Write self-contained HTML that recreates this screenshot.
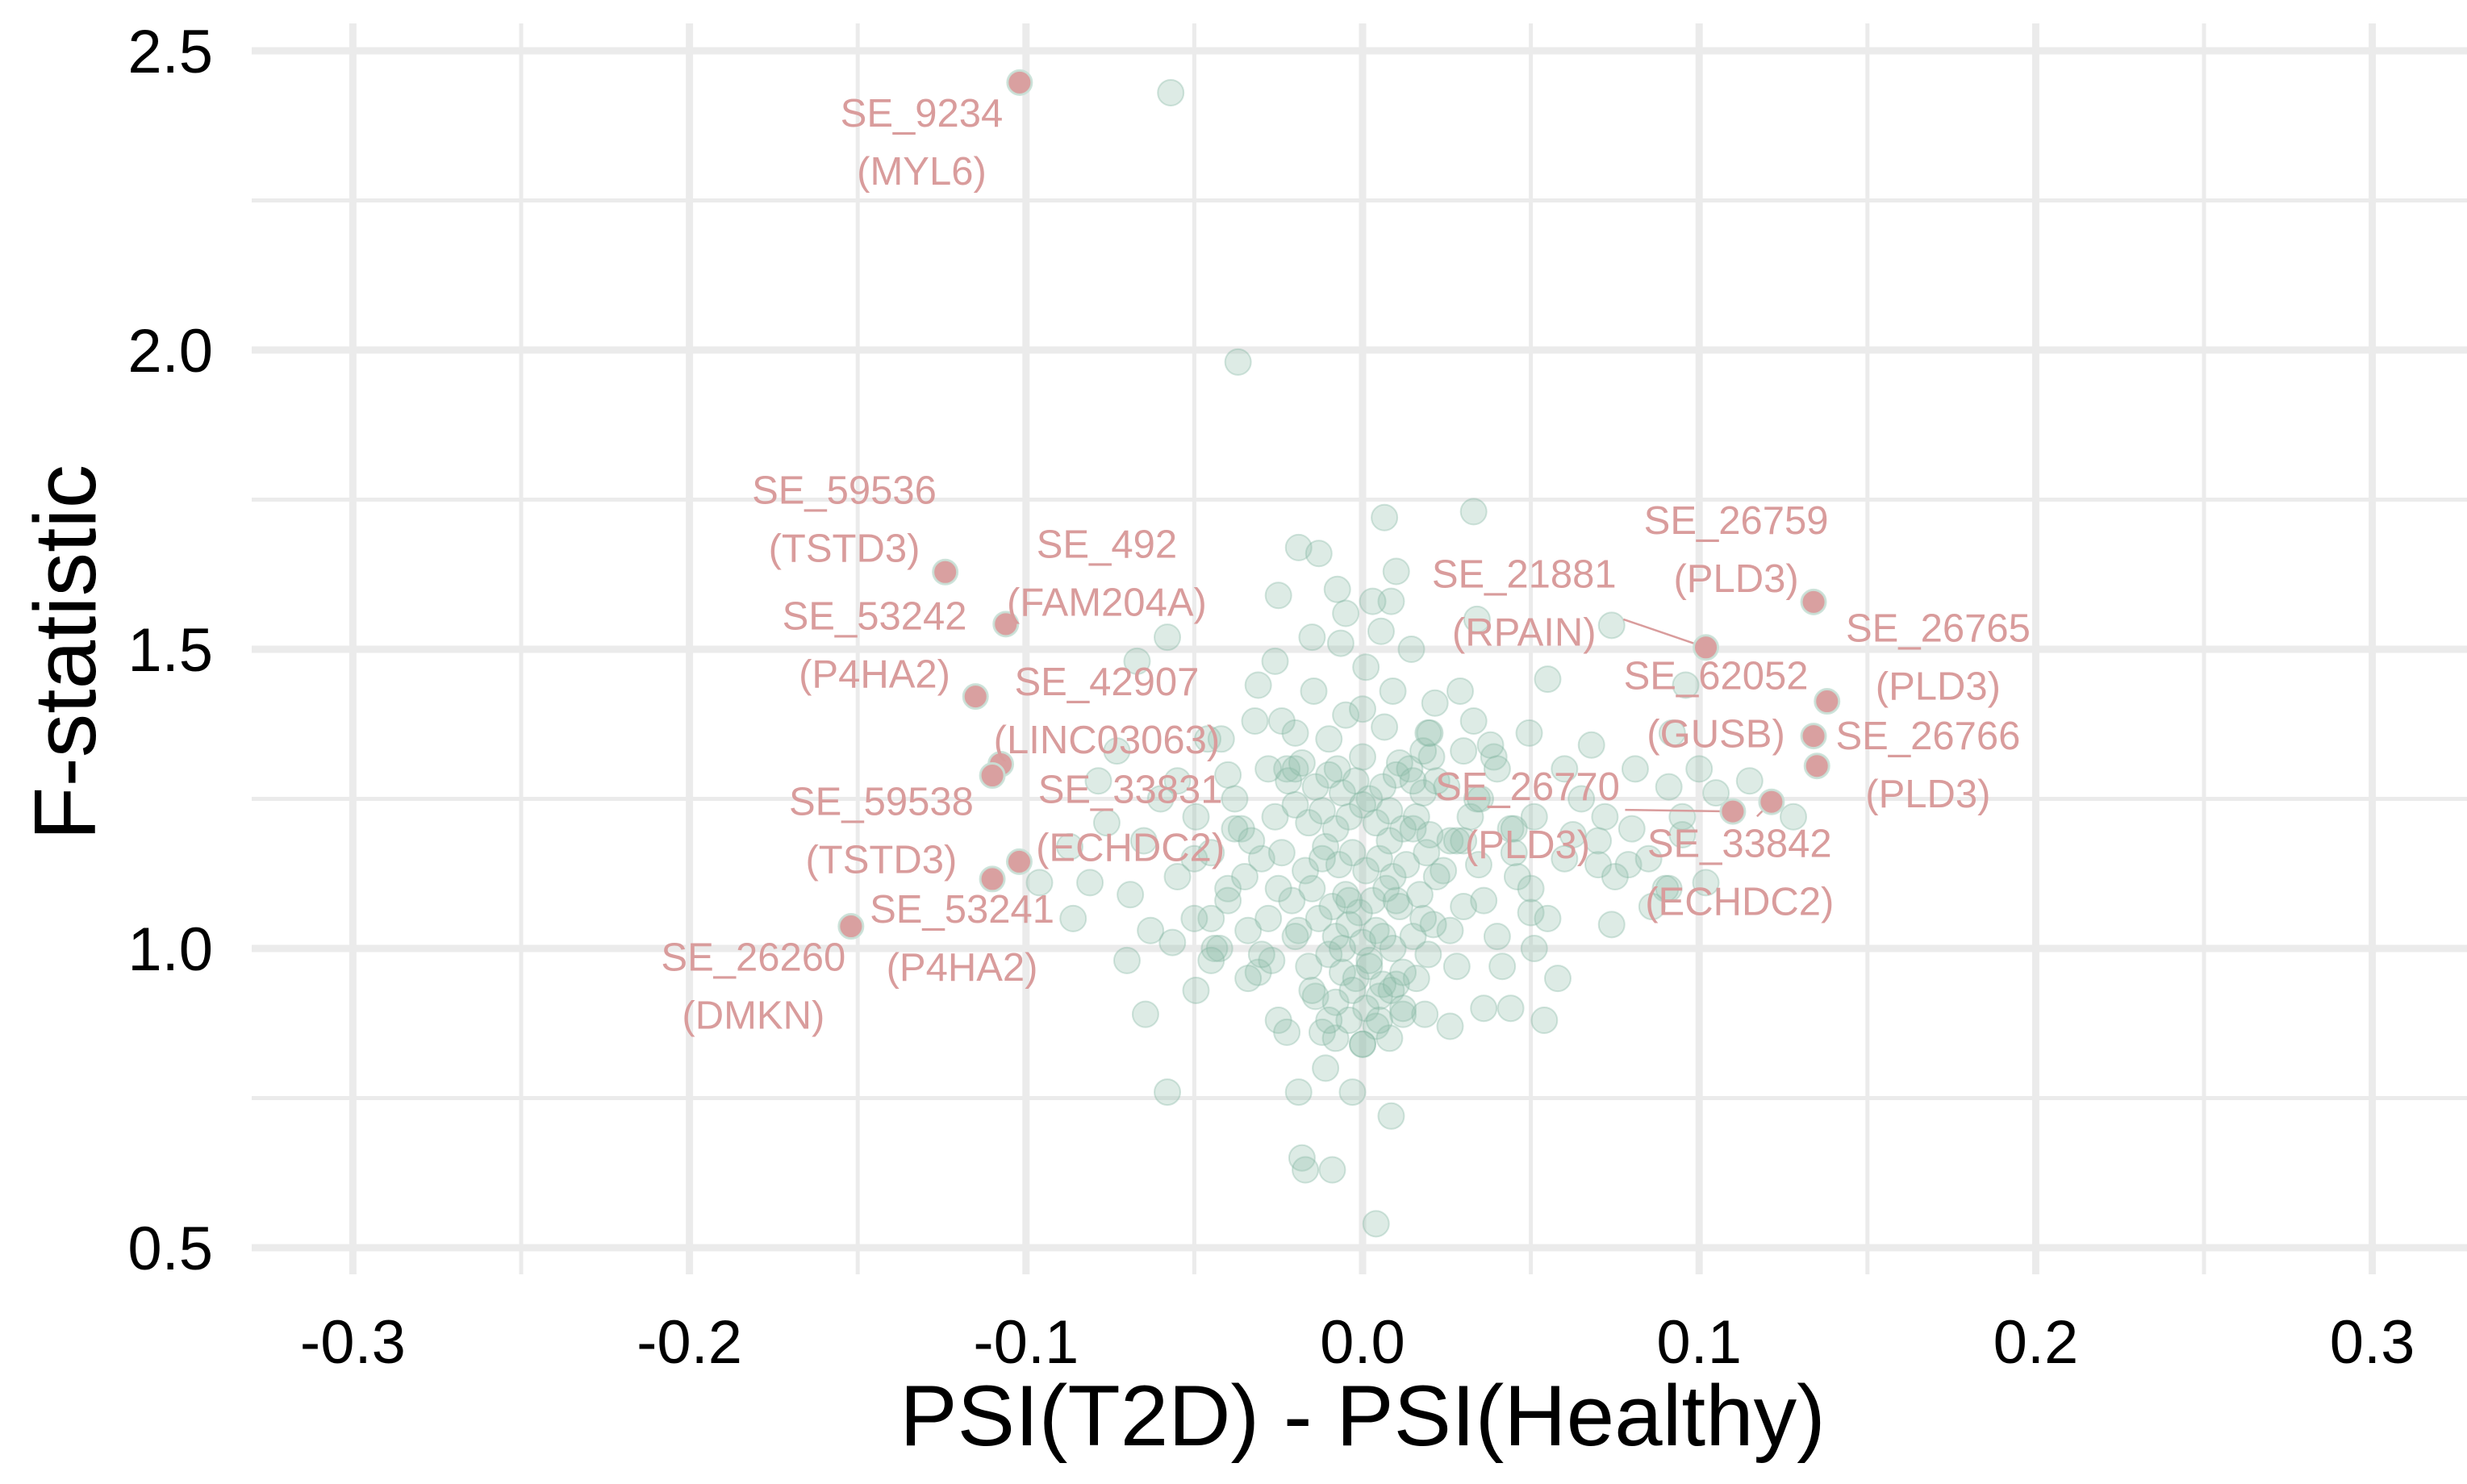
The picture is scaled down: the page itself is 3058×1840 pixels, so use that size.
<!DOCTYPE html>
<html><head><meta charset="utf-8">
<style>
html,body{margin:0;padding:0;background:#fff;}
svg{display:block;font-family:"Liberation Sans",Arial,sans-serif;}
</style></head>
<body>
<svg id="chart" width="3058" height="1840" viewBox="0 0 3058 1840" xmlns="http://www.w3.org/2000/svg">
<rect width="3058" height="1840" fill="#fff"/>
<g id="grid"></g>
<g id="pts"></g>
<g id="lines"></g>
<g id="hl"></g>
<g id="labels"></g>
<g id="axes"></g>
<text x="1689" y="1792" font-size="107" text-anchor="middle" fill="#000">PSI(T2D) - PSI(Healthy)</text>
<text transform="translate(118,809) rotate(-90)" font-size="109" text-anchor="middle" fill="#000">F-statistic</text>
</svg>
<script>
const xTicks=[-0.3,-0.2,-0.1,0.0,0.1,0.2,0.3];
const xTickLabels=["-0.3","-0.2","-0.1","0.0","0.1","0.2","0.3"];
const yTicks=[0.5,1.0,1.5,2.0,2.5];
const yTickLabels=["0.5","1.0","1.5","2.0","2.5"];
const bgX=[-0.057,-0.037,0.0065,0.033,-0.019,-0.013,0.010,-0.025,-0.0075,-0.005,0.0085,0.003,0.034,0.074,-0.058,-0.015,-0.0065,0.0055,0.0145,-0.067,-0.026,0.001,-0.031,-0.0145,0.009,0.0215,0.029,0.055,0.096,-0.032,-0.024,-0.005,0.0065,0.0195,0.033,0.0495,0.068,0.092,-0.073,-0.046,-0.040,-0.055,-0.0225,-0.0075,0,0.011,0.0205,0.039,0.060,0.081,0.091,-0.0785,-0.0495,-0.076,-0.087,-0.096,-0.081,-0.069,-0.086,-0.063,-0.070,-0.0565,-0.0495,-0.0645,-0.058,-0.0425,-0.034,-0.031,-0.025,-0.0225,-0.019,-0.018,-0.017,-0.009,-0.003,0.004,0.0085,-0.011,0,0.0185,0.026,0.036,0.044,0.054,0.058,0.0415,0.051,0.074,0.086,0.091,0.102,0.079,0.070,0.0625,0.051,0.044,0.0345,0.026,0.030,0.0195,0.016,0.0085,0.025,0.032,0.072,0.095,0.128,0.105,
-0.028,-0.022,-0.018,-0.014,-0.010,-0.006,-0.002,0.002,0.006,0.010,0.014,0.018,0.022,-0.026,-0.020,-0.016,-0.012,-0.008,-0.004,0.000,0.004,0.008,0.012,0.016,0.020,0.026,-0.030,-0.024,-0.017,-0.011,-0.007,-0.003,0.001,0.005,0.009,0.013,0.019,0.024,-0.021,-0.015,-0.009,-0.005,-0.001,0.003,0.007,0.011,0.017,-0.019,-0.013,-0.008,-0.004,0.000,0.004,0.009,0.015,0.021,-0.027,-0.016,-0.010,-0.006,-0.002,0.002,0.006,0.012,-0.014,-0.008,-0.003,0.001,0.005,0.010,-0.036,-0.040,-0.044,0.030,0.036,0.040,0.046,-0.034,-0.038,0.028,0.034,-0.050,-0.045,0.045,0.050,-0.042,0.038,-0.012,-0.004,0.004,0.012,-0.008,0.000,0.008,-0.020,0.018,
-0.06,-0.065,-0.055,-0.045,-0.04,-0.035,-0.038,-0.05,-0.045,-0.03,-0.028,-0.033,-0.025,-0.02,-0.015,-0.01,0.005,0.012,0.018,0.022,0.028,0.035,0.04,0.045,0.05,0.055,0.06,0.065,0.07,0.075,0.08,0.085,0.09,0.095,0.1,0.115,0.02,0.0,-0.01,-0.02,0.015,0.03,0.008,-0.004,0.002,-0.006,0.006,0.01,-0.012,0.015],
bgY=[2.43,1.98,1.72,1.73,1.67,1.66,1.63,1.59,1.60,1.56,1.58,1.58,1.55,1.54,1.52,1.52,1.51,1.53,1.50,1.48,1.48,1.47,1.44,1.43,1.43,1.41,1.43,1.45,1.44,1.38,1.38,1.39,1.37,1.36,1.38,1.36,1.34,1.36,1.33,1.35,1.29,1.28,1.30,1.30,1.32,1.31,1.32,1.32,1.30,1.30,1.27,1.28,1.22,1.21,1.17,1.11,1.11,1.09,1.05,1.03,0.98,1.01,0.93,0.89,0.76,1.00,1.03,0.96,0.88,0.86,0.76,0.65,0.63,0.63,0.76,0.54,0.72,0.80,0.84,0.89,0.87,0.90,0.90,0.88,0.95,0.97,1.00,1.04,1.07,1.10,1.11,1.14,1.14,1.19,1.22,1.20,1.14,1.03,1.07,0.99,0.95,0.93,1.27,1.22,1.22,1.19,1.22,1.26,
1.30,1.28,1.31,1.27,1.29,1.26,1.28,1.25,1.27,1.29,1.30,1.26,1.28,1.22,1.24,1.21,1.23,1.20,1.22,1.24,1.21,1.23,1.20,1.22,1.19,1.18,1.15,1.16,1.13,1.17,1.14,1.16,1.13,1.15,1.12,1.14,1.16,1.13,1.08,1.10,1.07,1.09,1.06,1.08,1.10,1.07,1.09,1.03,1.05,1.02,1.04,1.01,1.03,1.00,1.02,1.04,0.98,0.97,0.99,0.96,0.95,0.97,0.94,0.96,0.92,0.91,0.93,0.90,0.92,0.94,1.20,1.10,1.00,1.18,1.08,1.02,1.12,0.95,1.25,0.97,1.25,1.15,1.05,1.16,1.06,1.35,1.34,0.86,0.88,0.87,0.89,0.85,0.84,0.85,1.36,1.33,
1.25,1.18,1.12,1.16,1.08,1.12,1.2,1.05,0.98,0.99,1.05,1.18,1.1,1.02,0.93,0.88,0.88,0.9,1.05,1.12,1.18,1.25,1.3,1.2,1.1,1.05,1.15,1.25,1.18,1.12,1.2,1.15,1.1,1.22,1.3,1.28,1.36,1.4,1.35,1.3,1.28,1.33,1.18,1.08,0.98,1.0,1.02,1.08,1.15,1.2];
const hlNames=["SE_9234","SE_59536","SE_492","SE_53242","SE_42907","SE_59538","SE_33831","SE_53241","SE_26260","SE_21881","SE_26759","SE_26765","SE_62052","SE_26766","SE_26770","SE_33842"];
const hlGenes=["MYL6","TSTD3","FAM204A","P4HA2","LINC03063","TSTD3","ECHDC2","P4HA2","DMKN","RPAIN","PLD3","PLD3","GUSB","PLD3","PLD3","ECHDC2"];
const hlX=[-0.1019,-0.124,-0.106,-0.115,-0.1075,-0.110,-0.102,-0.110,-0.152,0.102,0.134,0.138,0.134,0.135,0.110,0.1215];
const hlY=[2.447,1.629,1.542,1.421,1.308,1.289,1.145,1.116,1.037,1.503,1.579,1.413,1.355,1.305,1.229,1.245];
const labX=[-0.131,-0.154,-0.076,-0.145,-0.076,-0.143,-0.069,-0.119,-0.181,0.048,0.111,0.171,0.105,0.168,0.049,0.112];
const labY=[2.40,1.77,1.68,1.56,1.45,1.25,1.27,1.07,0.99,1.63,1.72,1.54,1.46,1.36,1.275,1.18];
const hasLeader=[0,0,0,0,0,0,0,0,0,1,0,0,0,0,1,1];

const NS="http://www.w3.org/2000/svg";
const X0=312,X1=3058,Y0=29,Y1=1580;
const sx=v=>1689+v*4172;
const sy=v=>63-(v-2.5)*742;
function mk(t,a,p){const e=document.createElementNS(NS,t);for(const k in a)e.setAttribute(k,a[k]);p.appendChild(e);return e;}
const grid=document.getElementById('grid');
for(let v=-0.35;v<=0.351;v+=0.05){const major=Math.abs(Math.round(v*20))%2===0;const x=sx(v);if(x<X0||x>X1)continue;
 const l=mk('line',{x1:x,x2:x,y1:Y0,y2:Y1,stroke:'#ebebeb','stroke-width':major?9:5},grid);
 
 }
for(let v=0.5;v<=2.51;v+=0.25){const major=Math.round(v*4)%2===0;const y=sy(v);
 const l=mk('line',{x1:X0,x2:X1,y1:y,y2:y,stroke:'#ebebeb','stroke-width':major?9:5},grid);
 
 }
const axes=document.getElementById('axes');
xTicks.forEach((v,i)=>{const t=mk('text',{x:sx(v),y:1690,'font-size':76,'text-anchor':'middle',fill:'#000'},axes);t.textContent=xTickLabels[i];
 
 });
yTicks.forEach((v,i)=>{const t=mk('text',{x:264,y:sy(v)+27,'font-size':76,'text-anchor':'end',fill:'#000'},axes);t.textContent=yTickLabels[i];
 
 });
const pts=document.getElementById('pts');
bgX.forEach((v,i)=>{const c=mk('circle',{cx:sx(v),cy:sy(bgY[i]),r:16,fill:'rgba(143,190,170,0.3)',stroke:'rgba(130,180,160,0.35)','stroke-width':2},pts);
 
 });
const hl=document.getElementById('hl'),lab=document.getElementById('labels'),lines=document.getElementById('lines');
hlX.forEach((v,i)=>{
 const px=sx(v),py=sy(hlY[i]),lx=sx(labX[i]),ly=sy(labY[i]);
 if(hasLeader[i]){
  const ln=mk('line',{x1:px,y1:py,x2:px,y2:py,stroke:'#d99c9c','stroke-width':2.5},lines);
  if(i===15){ln.setAttribute('x2',px-18);ln.setAttribute('y2',py+18);}
  if(i===14){ln.setAttribute('x2',sx(0.078));ln.setAttribute('y2',py-2);}
  if(i===9){ln.setAttribute('x2',sx(0.0775));ln.setAttribute('y2',sy(1.55));}
  
  }
 const c=mk('circle',{cx:px,cy:py,r:15,fill:'#d9a0a0',stroke:'rgba(200,225,215,0.9)','stroke-width':3},hl);
 
 
 const t=mk('text',{x:lx,y:ly+20,'font-size':49,'text-anchor':'middle',fill:'#d99c9c'},lab);t.textContent=hlNames[i];
 
 
 const g=mk('text',{x:lx,y:ly+92,'font-size':49,'text-anchor':'middle',fill:'#d99c9c'},lab);g.textContent='('+hlGenes[i]+')';
 
 
});
</script>
</body></html>
